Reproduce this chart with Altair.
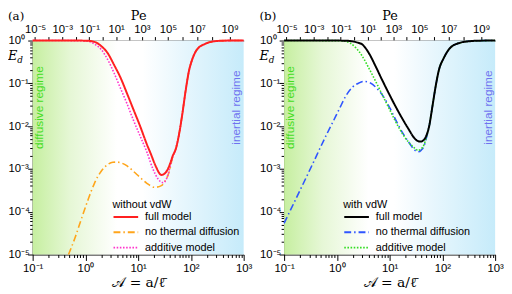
import altair as alt
import numpy as np
import pandas as pd

W, H = 214, 217

# ---------- data: log10(A) and log10(E_d) ----------
# panel (a): without vdW
a_full_logA = [-1.0, -0.2, 0.0, 0.1, 0.2, 0.3, 0.42, 0.54, 0.67, 0.79, 0.91, 1.04, 1.16, 1.25, 1.30, 1.35, 1.39, 1.44, 1.50, 1.56, 1.61, 1.654, 1.716, 1.778, 1.839, 1.90, 1.963, 2.025, 2.117, 2.272, 2.457, 2.64, 3.0]
a_full_logE = [0.0, 0.0, -0.003, -0.012, -0.045, -0.13, -0.29, -0.56, -0.88, -1.24, -1.61, -2.01, -2.41, -2.68, -2.84, -2.98, -3.08, -3.14, -3.11, -3.01, -2.86, -2.70, -2.52, -2.17, -1.70, -1.17, -0.71, -0.44, -0.207, -0.077, -0.015, -0.002, 0.0]

a_notd_logA = [-0.32, -0.2, -0.074, 0.05, 0.173, 0.296, 0.42, 0.52, 0.605, 0.7, 0.79, 0.975, 1.16, 1.315, 1.44, 1.53, 1.593, 1.654, 1.716, 1.778, 1.839, 1.90, 1.963, 2.025, 2.117, 2.272, 2.457, 2.64, 3.0]
a_notd_logE = [-5.0, -4.62, -4.16, -3.72, -3.33, -3.06, -2.90, -2.845, -2.84, -2.87, -2.93, -3.13, -3.33, -3.43, -3.39, -3.24, -3.05, -2.72, -2.52, -2.17, -1.70, -1.17, -0.71, -0.44, -0.207, -0.077, -0.015, -0.002, 0.0]

a_add_logA = [-1.0, -0.3, 0.0, 0.1, 0.17, 0.3, 0.42, 0.54, 0.67, 0.79, 0.91, 1.04, 1.16, 1.28, 1.38, 1.47, 1.53, 1.57, 1.61, 1.654, 1.716, 1.778, 1.839, 1.90, 1.963, 2.025, 2.117, 2.272, 2.457, 2.64, 3.0]
a_add_logE = [0.0, -0.001, -0.01, -0.035, -0.08, -0.21, -0.44, -0.75, -1.13, -1.48, -1.86, -2.24, -2.59, -3.0, -3.24, -3.32, -3.25, -3.12, -2.92, -2.72, -2.52, -2.17, -1.70, -1.17, -0.71, -0.44, -0.207, -0.077, -0.015, -0.002, 0.0]

# panel (b): with vdW
b_full_logA = [-1.0, 0.0, 0.2, 0.3, 0.4, 0.48, 0.6, 0.73, 0.85, 0.975, 1.1, 1.22, 1.35, 1.47, 1.53, 1.59, 1.65, 1.69, 1.75, 1.81, 1.87, 1.93, 2.03, 2.15, 2.33, 2.52, 2.7, 3.0]
b_full_logE = [0.0, -0.001, -0.006, -0.02, -0.05, -0.09, -0.28, -0.59, -0.90, -1.21, -1.51, -1.78, -2.05, -2.28, -2.345, -2.36, -2.32, -2.24, -2.0, -1.55, -1.09, -0.71, -0.40, -0.17, -0.054, -0.015, -0.003, 0.0]

b_notd_logA = [-1.0, -0.5, -0.2, -0.074, 0.05, 0.173, 0.296, 0.42, 0.512, 0.636, 0.759, 0.883, 1.006, 1.13, 1.253, 1.376, 1.469, 1.543, 1.6, 1.654, 1.7, 1.75, 1.81, 1.87, 1.93, 2.03, 2.15, 2.33, 2.52, 2.7, 3.0]
b_notd_logE = [-4.27, -2.99, -2.21, -1.90, -1.59, -1.29, -1.09, -0.99, -0.955, -0.99, -1.12, -1.31, -1.58, -1.89, -2.17, -2.40, -2.55, -2.60, -2.56, -2.46, -2.26, -2.0, -1.55, -1.09, -0.71, -0.40, -0.17, -0.054, -0.015, -0.003, 0.0]

b_add_logA = [-1.0, 0.0, 0.1, 0.17, 0.25, 0.36, 0.48, 0.6, 0.73, 0.85, 0.975, 1.1, 1.22, 1.35, 1.47, 1.54, 1.6, 1.65, 1.7, 1.75, 1.81, 1.87, 1.93, 2.03, 2.15, 2.33, 2.52, 2.7, 3.0]
b_add_logE = [0.0, -0.002, -0.008, -0.02, -0.06, -0.17, -0.36, -0.63, -0.94, -1.24, -1.55, -1.86, -2.13, -2.36, -2.51, -2.565, -2.53, -2.44, -2.25, -2.0, -1.55, -1.09, -0.71, -0.40, -0.17, -0.054, -0.015, -0.003, 0.0]

series_names = ["full model", "no thermal diffusion", "additive model"]
a_colors = ["#ff2020", "#ffa51a", "#ff33cc"]
b_colors = ["#000000", "#2f55ff", "#33dd22"]
dashes = [[1, 0], [7, 3, 1.5, 3], [1.6, 1.6]]

# axis ticks
x_major = [0.1, 1, 10, 100, 1000]
x_major_labels = ["10\u207b\u00b9", "10\u2070", "10\u00b9", "10\u00b2", "10\u00b3"]
x_minor = [m * d for d in [0.1, 1, 10, 100] for m in range(2, 10)]
y_major = [1e-5, 1e-4, 1e-3, 1e-2, 1e-1, 1]
y_major_labels = ["10\u207b\u2075", "10\u207b\u2074", "10\u207b\u00b3", "10\u207b\u00b2", "10\u207b\u00b9", "10\u2070"]
y_minor = [m * d for d in [1e-5, 1e-4, 1e-3, 1e-2, 1e-1] for m in range(2, 10)]
# Pe decades (10^-5 ... 10^9) located on the A axis
pe_tick_A = [0.1112, 0.2023, 0.3639, 0.659, 1.186, 2.137, 3.83, 6.76, 11.75, 20.6, 36.7, 69.0, 130.9, 255.0, 543.0]
pe_labels = ["10\u207b\u2075", "", "10\u207b\u00b3", "", "10\u207b\u00b9", "", "10\u00b9", "", "10\u00b3", "", "10\u2075", "", "10\u2077", "", "10\u2079"]

bg_x, bg_x2 = [0.1], [1000]
bg_y, bg_y2 = [1e-5], [1]

XD = [0.1, 1000]
YD = [1e-5, 1]

SANS = "Liberation Sans"
SERIF = "DejaVu Serif"
TICKFS = 11.5


def lab_expr(values, labels):
    vals = ",".join(repr(float(v)) for v in values)
    labs = ",".join("'" + l + "'" for l in labels)
    return f"[{labs}][indexof([{vals}], datum.value)]"


def xs():
    return alt.Scale(type="log", domain=XD, nice=False)


def ys():
    return alt.Scale(type="log", domain=YD, nice=False)


def sdf(logA, logE, name):
    return pd.DataFrame({"A": 10 ** np.array(logA), "E": 10 ** np.array(logE), "series": name})


def panel(tag, legend_title, data, colors, legend_x):
    bg = alt.Chart(pd.DataFrame({"x": bg_x, "x2": bg_x2, "y": bg_y, "y2": bg_y2})).mark_rect(
        color=alt.LinearGradient(
            gradient="linear",
            stops=[
                alt.GradientStop(color="#c6efa0", offset=0),
                alt.GradientStop(color="#e6f7d6", offset=0.18),
                alt.GradientStop(color="#ffffff", offset=0.40),
                alt.GradientStop(color="#ffffff", offset=0.52),
                alt.GradientStop(color="#e6f6fd", offset=0.72),
                alt.GradientStop(color="#c6ebfa", offset=1),
            ],
            x1=0, x2=1, y1=0, y2=0,
        )
    ).encode(
        x=alt.X("x:Q", scale=xs(), axis=alt.Axis(values=x_major, labelExpr=lab_expr(x_major, x_major_labels),
                                                tickSize=6, labelPadding=2, labelFlush=False,
                                                labelFont=SANS, labelFontSize=TICKFS, labelColor="black",
                                                domainColor="black", tickColor="black", grid=False,
                                                title="\U0001D49C = a/\u2113\u0304", titleFont=SERIF,
                                                titleFontSize=14, titleFontWeight="normal", titlePadding=2)),
        x2="x2:Q",
        y=alt.Y("y:Q", scale=ys(), axis=alt.Axis(values=y_major, labelExpr=lab_expr(y_major, y_major_labels),
                                                tickSize=5, labelPadding=20, labelAlign="left",
                                                labelFont=SANS, labelFontSize=TICKFS, labelColor="black",
                                                domainColor="black", tickColor="black", grid=False,
                                                title=None)),
        y2="y2:Q",
    )

    regime = alt.Chart(pd.DataFrame({"t": ["diffusive regime", "inertial regime"],
                                     "c": ["#44dd22", "#6f72f0"],
                                     "px": [6.5, 206.5]})).mark_text(
        angle=270, font=SANS, fontSize=12, baseline="middle", align="center"
    ).encode(text="t:N", x=alt.X("px:Q", scale=None), y=alt.value(68), color=alt.Color("c:N", scale=None))

    layers = [bg, regime]
    for df, name in zip(data, series_names):
        layers.append(
            alt.Chart(df).mark_line(interpolate="monotone", strokeWidth=2 if name == "full model" else 1.6).encode(
                x=alt.X("A:Q", scale=xs()),
                y=alt.Y("E:Q", scale=ys()),
                color=alt.Color("series:N", scale=alt.Scale(domain=series_names, range=colors),
                                legend=alt.Legend(title=legend_title, orient="none", legendX=legend_x, legendY=161,
                                                  symbolType="stroke", symbolSize=625, symbolStrokeWidth=2,
                                                  clipHeight=14, rowPadding=1.5, labelOffset=6,
                                                  labelFont=SANS, labelFontSize=11, titleFont=SANS,
                                                  titleFontSize=11, titleFontWeight="normal", titlePadding=0,
                                                  padding=0)),
                strokeDash=alt.StrokeDash("series:N", scale=alt.Scale(domain=series_names, range=dashes),
                                          legend=alt.Legend(title=legend_title, orient="none", legendX=legend_x,
                                                            legendY=161)),
            )
        )
    # draw full model last
    layers = layers[:2] + layers[3:] + layers[2:3]

    labels = alt.Chart(pd.DataFrame({"t": [tag]})).mark_text(
        font=SERIF, fontSize=12, align="left", baseline="top"
    ).encode(text="t:N", x=alt.value(-25), y=alt.value(-30))
    e_lab = alt.Chart(pd.DataFrame({"t": ["E"]})).mark_text(
        font=SERIF, fontSize=13, fontStyle="italic", align="left", baseline="middle"
    ).encode(text="t:N", x=alt.value(-25), y=alt.value(16))
    d_lab = alt.Chart(pd.DataFrame({"t": ["d"]})).mark_text(
        font=SERIF, fontSize=9, fontStyle="italic", align="left", baseline="middle"
    ).encode(text="t:N", x=alt.value(-15.5), y=alt.value(20))

    main = alt.layer(*layers, labels, e_lab, d_lab)

    minor_x = alt.Chart(pd.DataFrame({"v": x_minor})).mark_point(opacity=0).encode(
        x=alt.X("v:Q", scale=xs(), axis=alt.Axis(orient="bottom", values=x_minor, labels=False, tickSize=3,
                                                domain=False, grid=False, title=None, tickColor="black"))
    )
    minor_y = alt.Chart(pd.DataFrame({"v": y_minor})).mark_point(opacity=0).encode(
        y=alt.Y("v:Q", scale=ys(), axis=alt.Axis(orient="left", values=y_minor, labels=False, tickSize=3,
                                                domain=False, grid=False, title=None, tickColor="black"))
    )
    pe = alt.Chart(pd.DataFrame({"v": pe_tick_A})).mark_point(opacity=0).encode(
        x=alt.X("v:Q", scale=xs(), axis=alt.Axis(orient="top", values=pe_tick_A,
                                                labelExpr=lab_expr(pe_tick_A, pe_labels), tickSize=4,
                                                labelPadding=2, labelFlush=False, labelFont=SANS,
                                                labelFontSize=TICKFS, labelColor="black", domainColor="black",
                                                tickColor="black", grid=False, title="Pe", titleFont=SERIF,
                                                titleFontSize=13, titleFontWeight="normal", titlePadding=1))
    )
    return alt.layer(main, minor_x, minor_y, pe).resolve_scale(x="independent", y="independent").properties(
        width=W, height=H)


pa = panel("(a)", "without vdW",
           [sdf(a_full_logA, a_full_logE, "full model"), sdf(a_notd_logA, a_notd_logE, "no thermal diffusion"),
            sdf(a_add_logA, a_add_logE, "additive model")], a_colors, 81)
pb = panel("(b)", "with vdW",
           [sdf(b_full_logA, b_full_logE, "full model"), sdf(b_notd_logA, b_notd_logE, "no thermal diffusion"),
            sdf(b_add_logA, b_add_logE, "additive model")], b_colors, 60)

chart = alt.hconcat(pa, pb, spacing=41, bounds="flush").resolve_scale(
    color="independent", strokeDash="independent"
).properties(padding=0).configure_view(stroke=None).configure_axis(domainWidth=1, tickWidth=1)

chart.save("out.html", embed_options={"renderer": "svg", "actions": False})
